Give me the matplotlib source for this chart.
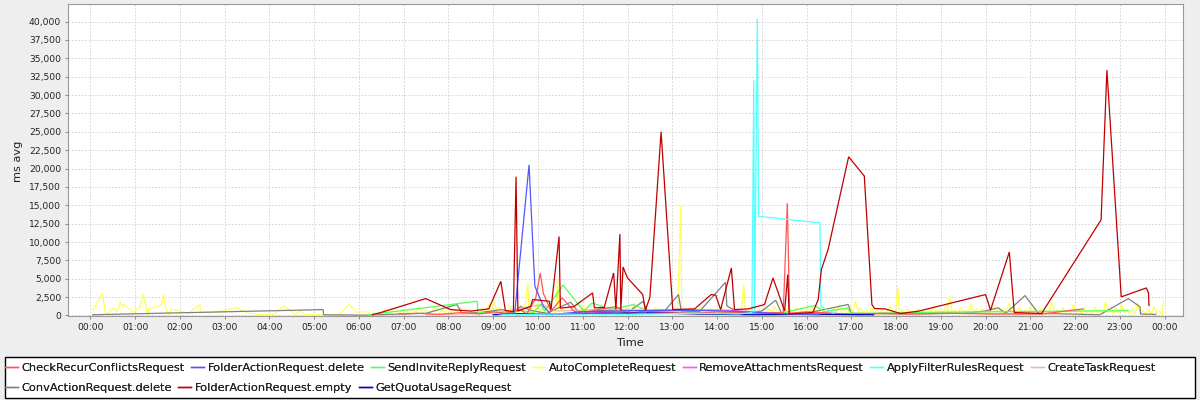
import matplotlib
matplotlib.use("Agg")
import matplotlib.pyplot as plt
from matplotlib.ticker import FuncFormatter
from matplotlib.lines import Line2D
from matplotlib.patches import Rectangle

# ---------------- data (time in hours of day, value in ms avg) ----------------
series_names = ["CheckRecurConflictsRequest", "FolderActionRequest.delete", "SendInviteReplyRequest",
                "AutoCompleteRequest", "RemoveAttachmentsRequest", "ApplyFilterRulesRequest",
                "CreateTaskRequest", "ConvActionRequest.delete", "FolderActionRequest.empty",
                "GetQuotaUsageRequest"]
series_colors = ["#FF5555", "#5555FF", "#55FF55", "#FFFF55", "#FF55FF", "#55FFFF",
                 "#FFAFAF", "#808080", "#C00000", "#0000C0"]

x_tick_labels = ["00:00", "01:00", "02:00", "03:00", "04:00", "05:00", "06:00", "07:00", "08:00",
                 "09:00", "10:00", "11:00", "12:00", "13:00", "14:00", "15:00", "16:00", "17:00",
                 "18:00", "19:00", "20:00", "21:00", "22:00", "23:00", "00:00"]
y_ticks = [0, 2500, 5000, 7500, 10000, 12500, 15000, 17500, 20000, 22500, 25000, 27500,
           30000, 32500, 35000, 37500, 40000]

check_t = [6.9, 7.3, 7.8, 8.3, 8.7, 9.0, 9.3, 9.6, 9.75, 9.95, 10.05, 10.12, 10.29, 10.54, 10.8,
           11.0, 11.4, 11.75, 12.0, 12.4, 12.9, 13.5, 14.0, 14.6, 15.0, 15.48, 15.57, 15.62, 16.0,
           16.6, 17.0, 17.7, 18.3, 19.2, 20.1, 21.25, 22.18]
check_v = [200, 300, 150, 400, 200, 500, 300, 800, 200, 2400, 5790, 3000, 600, 2400, 600,
           300, 900, 1200, 300, 600, 400, 300, 500, 400, 300, 400, 15280, 300, 500,
           300, 200, 300, 200, 300, 200, 200, 900]

fdel_t = [9.12, 9.48, 9.80, 9.93, 10.12, 10.3, 10.6, 11.0, 12.0, 13.0, 14.0, 14.6, 15.2, 15.8, 16.3]
fdel_v = [130, 300, 20500, 3980, 1260, 100, 300, 500, 650, 700, 650, 500, 300, 150, 100]

invite_t = [6.2, 6.44, 8.64, 8.66, 9.3, 9.6, 9.9, 10.06, 10.15, 10.56, 11.02, 11.21, 11.63, 12.13,
            12.45, 13.0, 13.5, 14.0, 14.5, 15.0, 15.5, 16.18, 16.4, 16.91, 17.0, 17.5, 18.2, 19.0,
            20.0, 21.0, 22.0, 23.19]
invite_v = [100, 270, 1940, 400, 300, 700, 400, 1500, 600, 4150, 590, 1720, 800, 1490,
            600, 500, 400, 300, 450, 300, 400, 1360, 500, 1040, 300, 300, 400, 450,
            500, 550, 600, 650]

auto_t = [0.06, 0.27, 0.34, 0.51, 0.60, 0.67, 0.70, 0.74, 0.99, 1.03, 1.10, 1.18, 1.23, 1.28, 1.30,
          1.59, 1.63, 1.68, 1.76, 1.80, 2.19, 2.45, 2.46, 2.80, 3.27, 3.50, 3.86, 4.10, 4.32, 4.50,
          4.58, 4.68, 4.80, 5.54, 5.78, 5.95, 6.21, 6.25, 6.40, 6.65,
          6.72, 6.80, 6.88, 6.95, 7.05, 7.12, 7.20, 7.28, 7.35, 7.42, 7.50, 7.58, 7.63, 7.71,
          7.78, 7.86, 7.93, 8.00, 8.06, 8.12, 8.20, 8.27, 8.33, 8.40, 8.47, 8.55, 8.62, 8.70,
          8.76, 8.83, 8.90, 8.96, 9.02, 9.08, 9.13, 9.19, 9.25, 9.31, 9.37, 9.43, 9.49, 9.55,
          9.61, 9.67, 9.72, 9.77, 9.80, 9.86, 9.92, 9.97, 10.03, 10.09, 10.15, 10.21, 10.27,
          10.33, 10.39, 10.44, 10.47, 10.53, 10.59, 10.65, 10.71, 10.77, 10.83, 10.89, 10.95,
          11.01, 11.07, 11.13, 11.19, 11.25, 11.31, 11.37, 11.43, 11.49, 11.55, 11.61, 11.67,
          11.73, 11.79, 11.85, 11.91, 11.97, 12.03, 12.09, 12.15, 12.21, 12.27, 12.33, 12.39,
          12.45, 12.51, 12.57, 12.63, 12.69, 12.75, 12.81, 12.87, 12.93, 12.99, 13.05, 13.12,
          13.19, 13.21, 13.27, 13.33, 13.39, 13.45, 13.51, 13.57, 13.63, 13.69, 13.75, 13.81,
          13.87, 13.93, 13.99, 14.05, 14.11, 14.17, 14.23, 14.29, 14.35, 14.41, 14.47, 14.53,
          14.60, 14.63, 14.69, 14.75, 14.81, 14.87, 14.93, 14.99, 15.05, 15.11, 15.17, 15.23,
          15.29, 15.35, 15.41, 15.47, 15.53, 15.59, 15.65, 15.71, 15.77, 15.83, 15.89, 15.95,
          16.01, 16.07, 16.13, 16.19, 16.25, 16.31, 16.37, 16.43, 16.49, 16.55, 16.61, 16.67,
          16.73, 16.79, 16.85, 16.91, 16.97, 17.03, 17.09, 17.15, 17.21, 17.27, 17.33, 17.39,
          17.45, 17.51, 17.57, 17.63, 17.69, 17.75, 17.81, 17.87, 17.93, 17.99, 18.04, 18.07,
          18.13, 18.19, 18.25, 18.31, 18.37, 18.43, 18.49, 18.55, 18.61, 18.67, 18.73, 18.79,
          18.85, 18.91, 18.97, 19.03, 19.09, 19.15, 19.20, 19.26, 19.32, 19.38, 19.44, 19.50,
          19.56, 19.62, 19.68, 19.74, 19.80, 19.86, 19.92, 19.98, 20.04, 20.10, 20.16, 20.22,
          20.28, 20.34, 20.40, 20.46, 20.52, 20.58, 20.64, 20.70, 20.76, 20.82, 20.88, 20.94,
          21.00, 21.06, 21.12, 21.18, 21.24, 21.30, 21.36, 21.42, 21.48, 21.54, 21.60, 21.66,
          21.72, 21.78, 21.84, 21.90, 21.96, 22.02, 22.08, 22.14, 22.20, 22.26, 22.32, 22.38,
          22.44, 22.50, 22.56, 22.62, 22.68, 22.74, 22.80, 22.86, 22.92, 22.98, 23.04, 23.10,
          23.16, 23.22, 23.28, 23.34, 23.40, 23.46, 23.52, 23.58, 23.64, 23.70, 23.76, 23.82,
          23.88, 23.94, 23.98]
auto_v = [720, 2990, 0, 1040, 500, 1940, 1200, 1500, 360, 900, 1100, 2850, 1600, 0, 900,
          1400, 2850, 1000, 0, 900, 300, 1500, 400, 400, 1100, 350, 100, 100, 1360, 500,
          100, 600, 100, 100, 1500, 450, 500, 100, 300, 800,
          300, 1100, 200, 600, 900, 150, 700, 400, 1200, 300, 800, 100, 600, 1000,
          250, 700, 400, 1300, 200, 800, 500, 1100, 100, 600, 900, 300, 700, 200,
          1000, 400, 1500, 300, 2000, 500, 1100, 300, 800, 200, 1300, 500, 900, 200,
          1400, 600, 1800, 4430, 500, 1200, 300, 1600, 400, 1000, 200, 1300, 600,
          900, 300, 5110, 400, 1100, 300, 800, 200, 1200, 500, 900, 300,
          1400, 400, 700, 200, 1000, 500, 800, 200, 1200, 400, 900, 300,
          1500, 500, 800, 200, 1100, 600, 300, 1700, 400, 900, 200, 1300,
          500, 700, 200, 1100, 400, 800, 300, 1000, 200, 700, 400, 1200,
          14900, 300, 900, 200, 1100, 500, 800, 200, 1300, 400, 700, 300,
          1000, 200, 900, 500, 1200, 300, 800, 200, 1100, 400, 900, 300,
          4200, 500, 1000, 300, 1300, 400, 800, 200, 1100, 500, 900, 300,
          1200, 400, 700, 200, 1000, 300, 800, 200, 1100, 400, 700, 200,
          900, 300, 1200, 500, 800, 200, 1000, 400, 700, 200, 1100, 500,
          1500, 300, 900, 200, 1200, 400, 2000, 600, 1000, 300, 800, 200,
          1100, 400, 700, 200, 900, 300, 600, 1300, 200, 800, 3980, 300,
          700, 200, 900, 400, 600, 200, 1000, 300, 700, 200, 900, 400,
          1200, 300, 800, 200, 1000, 400, 2620, 300, 800, 200, 1100, 500,
          700, 200, 1600, 400, 900, 200, 1000, 300, 700, 200, 1200, 500,
          800, 200, 1000, 300, 1800, 400, 900, 200, 1100, 400, 700, 200,
          1300, 300, 800, 200, 1000, 400, 700, 200, 1900, 300, 800, 200,
          1100, 400, 700, 200, 1500, 300, 800, 200, 1000, 400, 700, 200,
          1200, 300, 800, 200, 1900, 400, 900, 200, 1100, 300, 1500, 400,
          800, 200, 1000, 300, 1700, 200, 700, 100, 900, 200, 1200, 300,
          600, 100, 2000]

remove_t = [9.5, 10.4, 11.5, 12.2, 13.3, 14.3, 14.8, 15.6, 16.5, 17.2]
remove_v = [100, 200, 400, 700, 800, 700, 500, 200, 300, 100]

filter_t = [9.2, 10.5, 12.0, 13.5, 14.5, 14.78, 14.82, 14.84, 14.90, 14.93, 16.30, 16.32, 16.6]
filter_v = [100, 200, 150, 300, 200, 400, 32000, 400, 40400, 13500, 12600, 1200, 300]

task_t = [7.5, 9.0, 10.1, 10.4, 11.7, 13.2, 15.1, 17.0, 19.5, 21.5]
task_v = [100, 300, 1500, 600, 900, 300, 400, 200, 300, 200]

conv_t = [0.05, 5.20, 5.21, 6.1, 7.5, 8.19, 8.3, 8.7, 9.2, 9.4, 9.61, 9.9, 10.2, 10.73, 10.9, 11.5,
          12.0, 12.35, 12.45, 12.8, 13.14, 13.2, 13.6, 14.19, 14.22, 14.5, 15.0, 15.31, 15.45,
          16.0, 16.93, 17.0, 18.0, 19.5, 19.98, 20.28, 20.45, 20.88, 21.18, 22.55, 23.19, 23.45,
          23.46, 23.8]
conv_v = [100, 800, 100, 50, 300, 1490, 300, 400, 800, 300, 1200, 600, 300, 1810, 500, 700,
          400, 1940, 300, 400, 2850, 600, 500, 4520, 1300, 300, 600, 2080, 200,
          300, 1500, 300, 200, 300, 590, 1040, 300, 2710, 300, 100, 2300, 1180,
          200, 150]

empty_t = [6.30, 6.49, 7.49, 8.05, 8.5, 8.9, 9.17, 9.27, 9.45, 9.51, 9.55, 9.84, 9.88, 10.25,
           10.29, 10.47, 10.50, 10.8, 11.22, 11.26, 11.48, 11.69, 11.74, 11.83, 11.85, 11.90,
           12.0, 12.34, 12.40, 12.50, 12.75, 13.01, 13.5, 13.87, 13.97, 14.08, 14.32, 14.39,
           14.7, 15.06, 15.25, 15.51, 15.58, 15.61, 16.14, 16.26, 16.33, 16.48, 16.94, 17.29,
           17.46, 17.52, 17.75, 18.1, 18.5, 20.0, 20.11, 20.53, 20.64, 21.25, 22.58, 22.71,
           23.03, 23.59, 23.64, 23.65]
empty_v = [100, 400, 2300, 800, 600, 900, 4650, 700, 500, 18900, 600, 1260, 2170, 1940,
           800, 10750, 1000, 1200, 3070, 1040, 1100, 5790, 800, 11080, 700, 6600,
           5110, 2850, 700, 2500, 25000, 810, 900, 2850, 2760, 800, 6470, 800,
           900, 1490, 5110, 600, 5560, 200, 400, 2170, 6240, 8950, 21600, 18980,
           1490, 950, 900, 270, 590, 2850, 720, 8640, 400, 270, 13020, 33400,
           2530, 3750, 3070, 1350]

quota_t = [9.0, 9.6, 10.2, 11.3, 12.5, 13.6, 14.8, 16.0, 17.5]
quota_v = [100, 250, 150, 300, 350, 200, 100, 150, 100]

series_data = [(check_t, check_v), (fdel_t, fdel_v), (invite_t, invite_v), (auto_t, auto_v),
               (remove_t, remove_v), (filter_t, filter_v), (task_t, task_v), (conv_t, conv_v),
               (empty_t, empty_v), (quota_t, quota_v)]

# ---------------- figure ----------------
W, H = 1200, 400
fig = plt.figure(figsize=(12, 4), dpi=100, facecolor="#EEEEEE")
ax = fig.add_axes([68 / W, 84 / H, (1183 - 68) / W, (316 - 4) / H])
ax.set_facecolor("white")

draw_order = [3, 7, 6, 4, 2, 0, 9, 1, 5, 8]
for z, i in enumerate(draw_order):
    t, v = series_data[i]
    ax.plot(t, v, color=series_colors[i], lw=0.9, zorder=3 + z, solid_joinstyle="miter")

ax.set_xlim(-0.5, 24.41)
ax.set_ylim(-70, 42400)
ax.set_xticks(range(len(x_tick_labels)))
ax.set_xticklabels(x_tick_labels)
ax.set_yticks(y_ticks)
ax.yaxis.set_major_formatter(FuncFormatter(lambda v, _: f"{int(v):,}"))
ax.tick_params(axis="both", labelsize=6.6, length=2, width=0.7, color="#888888",
               labelcolor="#222222", pad=3)
ax.grid(True, color="#CFCFCF", linestyle=(0, (2, 2)), lw=0.6, zorder=0)
for s in ax.spines.values():
    s.set_color("#9A9A9A")
    s.set_linewidth(0.8)

fig.text(630 / W, 1 - 343 / H, "Time", ha="center", va="center", fontsize=8.2, color="#222222")
fig.text(18 / W, 1 - 161 / H, "ms avg", ha="center", va="center", rotation=90, fontsize=8.2,
         color="#222222")

# legend frame
fig.add_artist(Rectangle((5 / W, 2 / H), 1190 / W, 41 / H, transform=fig.transFigure,
                         facecolor="white", edgecolor="black", lw=1.0, zorder=1))


def legend_row(idx, ycenter):
    handles = [Line2D([], [], color=series_colors[i], lw=1.0) for i in idx]
    labels = [series_names[i] for i in idx]
    leg = fig.legend(handles, labels, ncol=len(idx), loc="center left",
                     bbox_to_anchor=(5 / W, 1 - ycenter / H), frameon=False, fontsize=8.2,
                     handlelength=1.15, handletextpad=0.3, columnspacing=0.55,
                     borderpad=0, borderaxespad=0)
    for txt in leg.get_texts():
        txt.set_color("#222222")
    leg.set_zorder(5)
    fig.add_artist(leg)


legend_row([0, 1, 2, 3, 4, 5, 6], 368)
legend_row([7, 8, 9], 388)

fig.savefig("out.png", dpi=100, facecolor=fig.get_facecolor())
